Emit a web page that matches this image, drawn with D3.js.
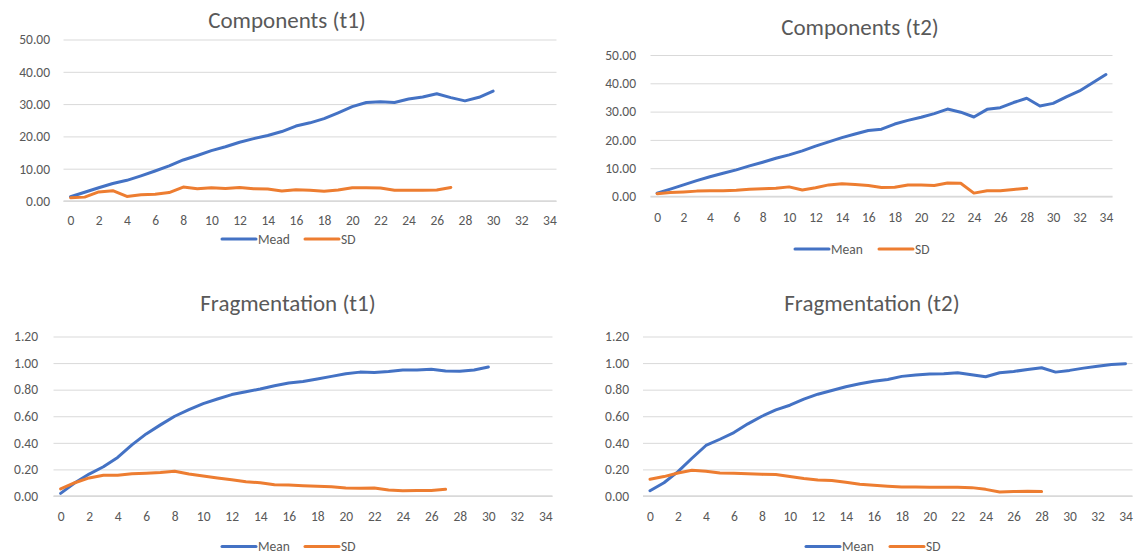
<!DOCTYPE html>
<html>
<head>
<meta charset="utf-8">
<script src="https://cdn.jsdelivr.net/npm/d3@7"></script>
<style>
  html, body { margin: 0; padding: 0; background: #fff; }
  svg { display: block; }
  text { font-family: Calibri, Carlito, Lato, sans-serif; fill: #595959; }
</style>
</head>
<body>
<svg id="chart" width="1144" height="555"></svg>
<script>
// ---------- data ----------
const categories = [0,1,2,3,4,5,6,7,8,9,10,11,12,13,14,15,16,17,18,19,20,21,22,23,24,25,26,27,28,29,30,31,32,33,34];
const xTickLabels = [0,2,4,6,8,10,12,14,16,18,20,22,24,26,28,30,32,34];

const compTicks = [0,10,20,30,40,50];
const fragTicks = [0,0.2,0.4,0.6,0.8,1.0,1.2];

const compT1Mean = [1.3,2.7,4.1,5.4,6.4,7.8,9.3,10.9,12.7,14.1,15.6,16.8,18.2,19.3,20.3,21.5,23.2,24.2,25.5,27.3,29.2,30.5,30.7,30.5,31.6,32.2,33.2,32.0,31.0,32.1,34.0];
const compT1SD   = [1.0,1.2,2.8,3.2,1.4,1.9,2.1,2.6,4.3,3.8,4.1,3.9,4.2,3.8,3.7,3.1,3.5,3.3,3.0,3.4,4.1,4.1,4.0,3.3,3.3,3.3,3.4,4.2];

const compT2Mean = [1.2,2.6,4.1,5.6,7.0,8.2,9.4,10.8,12.1,13.5,14.7,16.1,17.8,19.3,20.8,22.1,23.3,23.8,25.6,26.9,28.0,29.3,30.9,29.8,28.1,30.8,31.4,33.2,34.7,32.0,32.9,35.2,37.3,40.2,43.1];
const compT2SD   = [1.0,1.4,1.6,1.9,2.0,2.0,2.2,2.6,2.7,2.9,3.4,2.3,3.1,4.1,4.5,4.2,3.9,3.2,3.3,4.1,4.1,3.9,4.8,4.7,1.2,2.0,2.0,2.5,2.9];

const fragT1Mean = [0.02,0.10,0.165,0.22,0.29,0.385,0.467,0.535,0.60,0.65,0.695,0.73,0.763,0.784,0.805,0.83,0.85,0.862,0.88,0.90,0.92,0.932,0.93,0.937,0.948,0.948,0.953,0.94,0.938,0.948,0.97];
const fragT1SD   = [0.053,0.10,0.136,0.156,0.156,0.168,0.171,0.176,0.186,0.166,0.151,0.136,0.123,0.108,0.10,0.085,0.083,0.078,0.073,0.07,0.06,0.058,0.06,0.045,0.04,0.041,0.041,0.05];

const fragT2Mean = [0.04,0.10,0.183,0.284,0.38,0.427,0.477,0.543,0.60,0.648,0.683,0.729,0.766,0.794,0.822,0.844,0.864,0.877,0.90,0.91,0.917,0.92,0.927,0.912,0.897,0.927,0.937,0.952,0.965,0.932,0.945,0.962,0.977,0.99,0.995];
const fragT2SD   = [0.126,0.146,0.173,0.193,0.186,0.173,0.171,0.168,0.163,0.161,0.146,0.131,0.12,0.116,0.103,0.088,0.08,0.073,0.068,0.068,0.065,0.065,0.065,0.063,0.05,0.03,0.033,0.035,0.033];

const titles = ["Components (t1)", "Components (t2)", "Fragmentation (t1)", "Fragmentation (t2)"];
const seriesNames = [["Mead","SD"], ["Mean","SD"], ["Mean","SD"], ["Mean","SD"]];
const colors = ["#4472C4", "#ED7D31"];

// ---------- layout ----------
const panels = [
  { title: titles[0], names: seriesNames[0], series: [compT1Mean, compT1SD], ticks: compTicks,
    x0: 63.5, x1: 556.5, y0: 201, y1: 39.5, labRight: 50, xLabY: 220,
    titleX: 287, titleY: 20, legY: 239, leg: [222, 305] },
  { title: titles[1], names: seriesNames[1], series: [compT2Mean, compT2SD], ticks: compTicks,
    x0: 650.5, x1: 1112.5, y0: 196.5, y1: 55, labRight: 636, xLabY: 217,
    titleX: 860, titleY: 27, legY: 249, leg: [795, 879] },
  { title: titles[2], names: seriesNames[2], series: [fragT1Mean, fragT1SD], ticks: fragTicks,
    x0: 53.5, x1: 552.5, y0: 496, y1: 336.5, labRight: 38, xLabY: 516,
    titleX: 288, titleY: 303, legY: 546.5, leg: [222, 305] },
  { title: titles[3], names: seriesNames[3], series: [fragT2Mean, fragT2SD], ticks: fragTicks,
    x0: 643, x1: 1132.5, y0: 496, y1: 336.5, labRight: 629, xLabY: 516,
    titleX: 872, titleY: 303, legY: 546.5, leg: [806, 890] }
];

const svg = d3.select("#chart");
const fmt = d3.format(".2f");
const FONT = "Calibri, Carlito, Lato, sans-serif";

panels.forEach(p => {
  const g = svg.append("g");
  const x = d3.scalePoint().domain(categories).range([p.x0, p.x1]).padding(0.5);
  const y = d3.scaleLinear().domain([0, p.ticks[p.ticks.length - 1]]).range([p.y0, p.y1]);

  // gridlines + y labels
  const yAxis = d3.axisLeft(y).tickValues(p.ticks).tickFormat(fmt)
    .tickSize(-(p.x1 - p.x0)).tickPadding(p.x0 - p.labRight);
  const ya = g.append("g").attr("transform", `translate(${p.x0},0)`).call(yAxis);
  ya.select(".domain").remove();
  ya.selectAll(".tick line").attr("stroke", "#D9D9D9").attr("stroke-width", 1);
  ya.selectAll(".tick text").attr("font-size", 13.5).attr("fill", "#595959")
    .style("font-family", FONT);

  // category axis
  const xAxis = d3.axisBottom(x).tickValues(xTickLabels).tickSize(0);
  const xa = g.append("g").attr("transform", `translate(0,${p.y0})`).call(xAxis);
  xa.select(".domain").attr("stroke", "#D9D9D9").attr("stroke-width", 1.3)
    .attr("d", `M${p.x0},0H${p.x1}`);
  xa.selectAll(".tick text").attr("font-size", 13.5).attr("fill", "#595959")
    .attr("dy", "0.35em").attr("y", p.xLabY - p.y0)
    .style("font-family", FONT);

  // lines
  const line = d3.line().x((d, i) => x(categories[i])).y(d => y(d));
  p.series.forEach((s, k) => {
    g.append("path").datum(s).attr("d", line)
      .attr("fill", "none").attr("stroke", colors[k]).attr("stroke-width", 3)
      .attr("stroke-linejoin", "round").attr("stroke-linecap", "round");
  });

  // title
  g.append("text").attr("x", p.titleX).attr("y", p.titleY).attr("dy", "0.35em")
    .attr("text-anchor", "middle").attr("font-size", 23).text(p.title);

  // legend
  p.names.forEach((n, k) => {
    const lx = p.leg[k];
    g.append("line").attr("x1", lx).attr("x2", lx + 34).attr("y1", p.legY).attr("y2", p.legY)
      .attr("stroke", colors[k]).attr("stroke-width", 3).attr("stroke-linecap", "round");
    g.append("text").attr("x", lx + 36).attr("y", p.legY).attr("dy", "0.35em")
      .attr("font-size", 13.5).text(n);
  });
});
</script>
</body>
</html>
